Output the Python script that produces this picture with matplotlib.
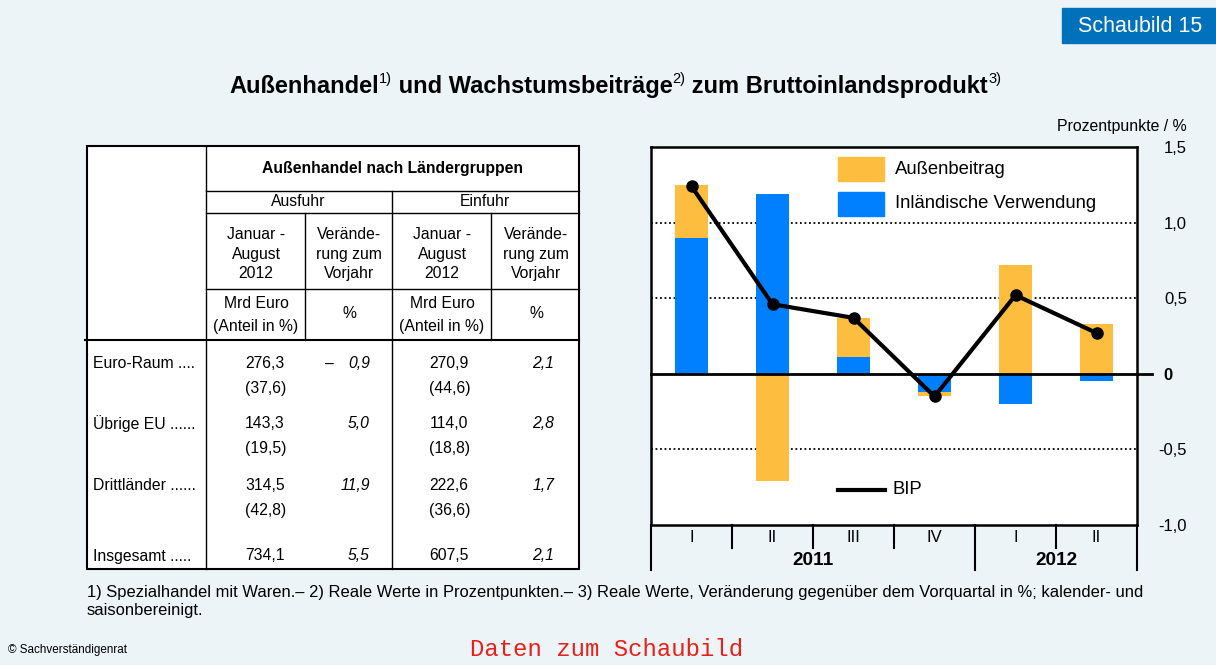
import matplotlib

matplotlib.use("Agg")
import matplotlib.pyplot as plt
import matplotlib.transforms as mtransforms
from matplotlib.patches import Rectangle
from matplotlib.lines import Line2D

plt.rcParams["font.family"] = ["Liberation Sans", "DejaVu Sans"]

# chart data (Wachstumsbeiträge, Prozentpunkte / %)
quarters = ["I", "II", "III", "IV", "I", "II"]
years = ["2011", "2012"]
aussenbeitrag = [0.35, -0.71, 0.26, -0.03, 0.72, 0.33]
inland = [0.90, 1.19, 0.11, -0.12, -0.20, -0.05]
bip = [1.24, 0.46, 0.37, -0.15, 0.52, 0.27]
y_ticks = [-1.0, -0.5, 0, 0.5, 1.0, 1.5]
y_ticklabels = ["-1,0", "-0,5", "0", "0,5", "1,0", "1,5"]

# table data
row_labels = ["Euro-Raum ....", "Übrige EU ......", "Drittländer ......", "Insgesamt ....."]
aus_mrd = ["276,3", "143,3", "314,5", "734,1"]
aus_anteil = ["(37,6)", "(19,5)", "(42,8)", ""]
aus_chg = ["0,9", "5,0", "11,9", "5,5"]
ein_mrd = ["270,9", "114,0", "222,6", "607,5"]
ein_anteil = ["(44,6)", "(18,8)", "(36,6)", ""]
ein_chg = ["2,1", "2,8", "1,7", "2,1"]
aus_sign = ["–", "", "", ""]

ORANGE = "#FDBE40"
BLUE = "#0080FF"
BG = "#ECF4F8"

fig = plt.figure(figsize=(12.16, 6.65), dpi=100, facecolor=BG)
bg = fig.add_axes([0, 0, 1, 1])
bg.set_xlim(0, 1216)
bg.set_ylim(665, 0)
bg.axis("off")
r = fig.canvas.get_renderer()

# Schaubild box
bg.add_patch(Rectangle((1062, 8), 154, 35, color="#0071BA"))
bg.text(1140, 26, "Schaubild 15", color="white", fontsize=15.5, ha="center", va="center")

# title with superscripts
pieces = [("Außenhandel", 17, "bold", 0), ("1)", 10.5, "normal", -10),
          (" und Wachstumsbeiträge", 17, "bold", 0), ("2)", 10.5, "normal", -10),
          (" zum Bruttoinlandsprodukt", 17, "bold", 0), ("3)", 10.5, "normal", -10)]
arts = []
x = 0
for s, size, weight, dy in pieces:
    t = bg.text(x, 93 + dy, s, fontsize=size, weight=weight, va="baseline")
    arts.append((t, x))
    x += t.get_window_extent(r).width
shift = 615 - x / 2
for t, x0 in arts:
    t.set_x(x0 + shift)

# table
T = bg
T.add_patch(Rectangle((87, 146), 492, 423, facecolor="white", edgecolor="black", lw=1.5))
hl = [(191, 206, 579, 1), (213, 206, 579, 1), (289, 206, 579, 1), (340, 85, 579, 1.5)]
for y, x0, x1, lw in hl:
    T.plot([x0, x1], [y, y], color="black", lw=lw)
vl = [(206, 146, 569), (392, 191, 569), (305, 213, 340), (491, 213, 340)]
for xv, y0, y1 in vl:
    T.plot([xv, xv], [y0, y1], color="black", lw=1)
fs = 11.3
T.text(393, 168, "Außenhandel nach Ländergruppen", fontsize=fs, weight="bold", ha="center", va="center")
T.text(298, 202, "Ausfuhr", fontsize=fs, ha="center", va="center")
T.text(485, 202, "Einfuhr", fontsize=fs, ha="center", va="center")
for cx in (256, 442):
    T.text(cx, 254, "Januar -\nAugust\n2012", fontsize=fs, ha="center", va="center", linespacing=1.38)
    T.text(cx, 315, "Mrd Euro\n(Anteil in %)", fontsize=fs, ha="center", va="center", linespacing=1.62)
for cx in (349, 536):
    T.text(cx, 254, "Verände-\nrung zum\nVorjahr", fontsize=fs, ha="center", va="center", linespacing=1.38)
    T.text(cx, 314, "%", fontsize=fs, ha="center", va="center")

row_y = [364, 424, 486, 556]
for i, y in enumerate(row_y):
    T.text(93, y, row_labels[i], fontsize=fs, va="center")
    T.text(265, y, aus_mrd[i], fontsize=fs, ha="center", va="center")
    T.text(266, y + 24, aus_anteil[i], fontsize=fs, ha="center", va="center")
    T.text(370, y, aus_chg[i], fontsize=fs, ha="right", va="center", style="italic")
    T.text(325, y, aus_sign[i], fontsize=fs, ha="left", va="center")
    T.text(449, y, ein_mrd[i], fontsize=fs, ha="center", va="center")
    T.text(450, y + 24, ein_anteil[i], fontsize=fs, ha="center", va="center")
    T.text(554, y, ein_chg[i], fontsize=fs, ha="right", va="center", style="italic")

# footnotes
bg.text(87, 593, "1) Spezialhandel mit Waren.– 2) Reale Werte in Prozentpunkten.– 3) Reale Werte, "
        "Veränderung gegenüber dem Vorquartal in %; kalender- und", fontsize=11.9, va="center")
bg.text(87, 611, "saisonbereinigt.", fontsize=11.9, va="center")
bg.text(8, 650, "© Sachverständigenrat", fontsize=8.4, va="center")
bg.text(607, 650, "Daten zum Schaubild", fontsize=17.2, va="center", ha="center",
        color="#E8201A", family="Liberation Mono")

# chart
ax = fig.add_axes([651 / 1216, 1 - 525 / 665, 486 / 1216, 378 / 665], zorder=2)
ax.set_facecolor("white")
xs = list(range(len(quarters)))
bw = 0.41
for yv in (1.0, 0.5, -0.5):
    ax.axhline(yv, color="black", lw=1.3, ls=(0, (1, 1.5)), zorder=1)
ax.bar(xs, inland, width=bw, color=BLUE, zorder=2)
bottoms = [iv if (iv > 0) == (av > 0) else 0 for iv, av in zip(inland, aussenbeitrag)]
ax.bar(xs, aussenbeitrag, width=bw, bottom=bottoms, color=ORANGE, zorder=2)
ax.axhline(0, xmin=0, xmax=1.03, color="black", lw=2, zorder=3, clip_on=False)
ax.plot(xs, bip, color="black", lw=3, marker="o", ms=8, zorder=4)
ax.set_xlim(-0.5, len(quarters) - 0.5)
ax.set_ylim(-1.0, 1.5)
ax.yaxis.tick_right()
ax.set_yticks(y_ticks)
ax.set_yticklabels(y_ticklabels, fontsize=12)
ax.tick_params(axis="y", length=0, pad=36)
for lab, txt in zip(ax.get_yticklabels(), y_ticklabels):
    lab.set_horizontalalignment("right")
    if txt == "0":
        lab.set_fontweight("bold")
        lab.set_transform(lab.get_transform() + mtransforms.ScaledTranslation(-14 / 100, 0, fig.dpi_scale_trans))
ax.set_xticks([])
for sp in ax.spines.values():
    sp.set_linewidth(1.8)
bg.text(1187, 127, "Prozentpunkte / %", fontsize=11.4, ha="right", va="center")

# category axis below plot
tr = ax.get_xaxis_transform()
for b in [x + 0.5 for x in xs[:-1]]:
    y_end = -0.119 if b == 3.5 else -0.061
    ax.plot([b, b], [0, y_end], color="black", lw=1.5, transform=tr, clip_on=False)
for b in (-0.5, len(quarters) - 0.5):
    ax.plot([b, b], [0, -0.119], color="black", lw=1.5, transform=tr, clip_on=False)
for x, q in zip(xs, quarters):
    ax.text(x, -0.032, q, fontsize=12, ha="center", va="center", transform=tr)
ax.text(1.5, -0.095, years[0], fontsize=13.7, weight="bold", ha="center", va="center", transform=tr)
ax.text(4.5, -0.095, years[1], fontsize=13.7, weight="bold", ha="center", va="center", transform=tr)

# legend (manual, pixel coords)
ax.add_patch(Rectangle((838, 157), 46, 24, color=ORANGE, transform=bg.transData, clip_on=False))
ax.add_patch(Rectangle((838, 192), 46, 24, color=BLUE, transform=bg.transData, clip_on=False))
ax.text(895, 169, "Außenbeitrag", fontsize=13.3, va="center", transform=bg.transData)
ax.text(895, 204, "Inländische Verwendung", fontsize=13.3, va="center", transform=bg.transData)
ax.add_line(Line2D([838, 885], [490, 490], color="black", lw=3, transform=bg.transData))
ax.text(893, 490, "BIP", fontsize=13.3, va="center", transform=bg.transData)

fig.savefig("out.png", dpi=100, facecolor=BG)
